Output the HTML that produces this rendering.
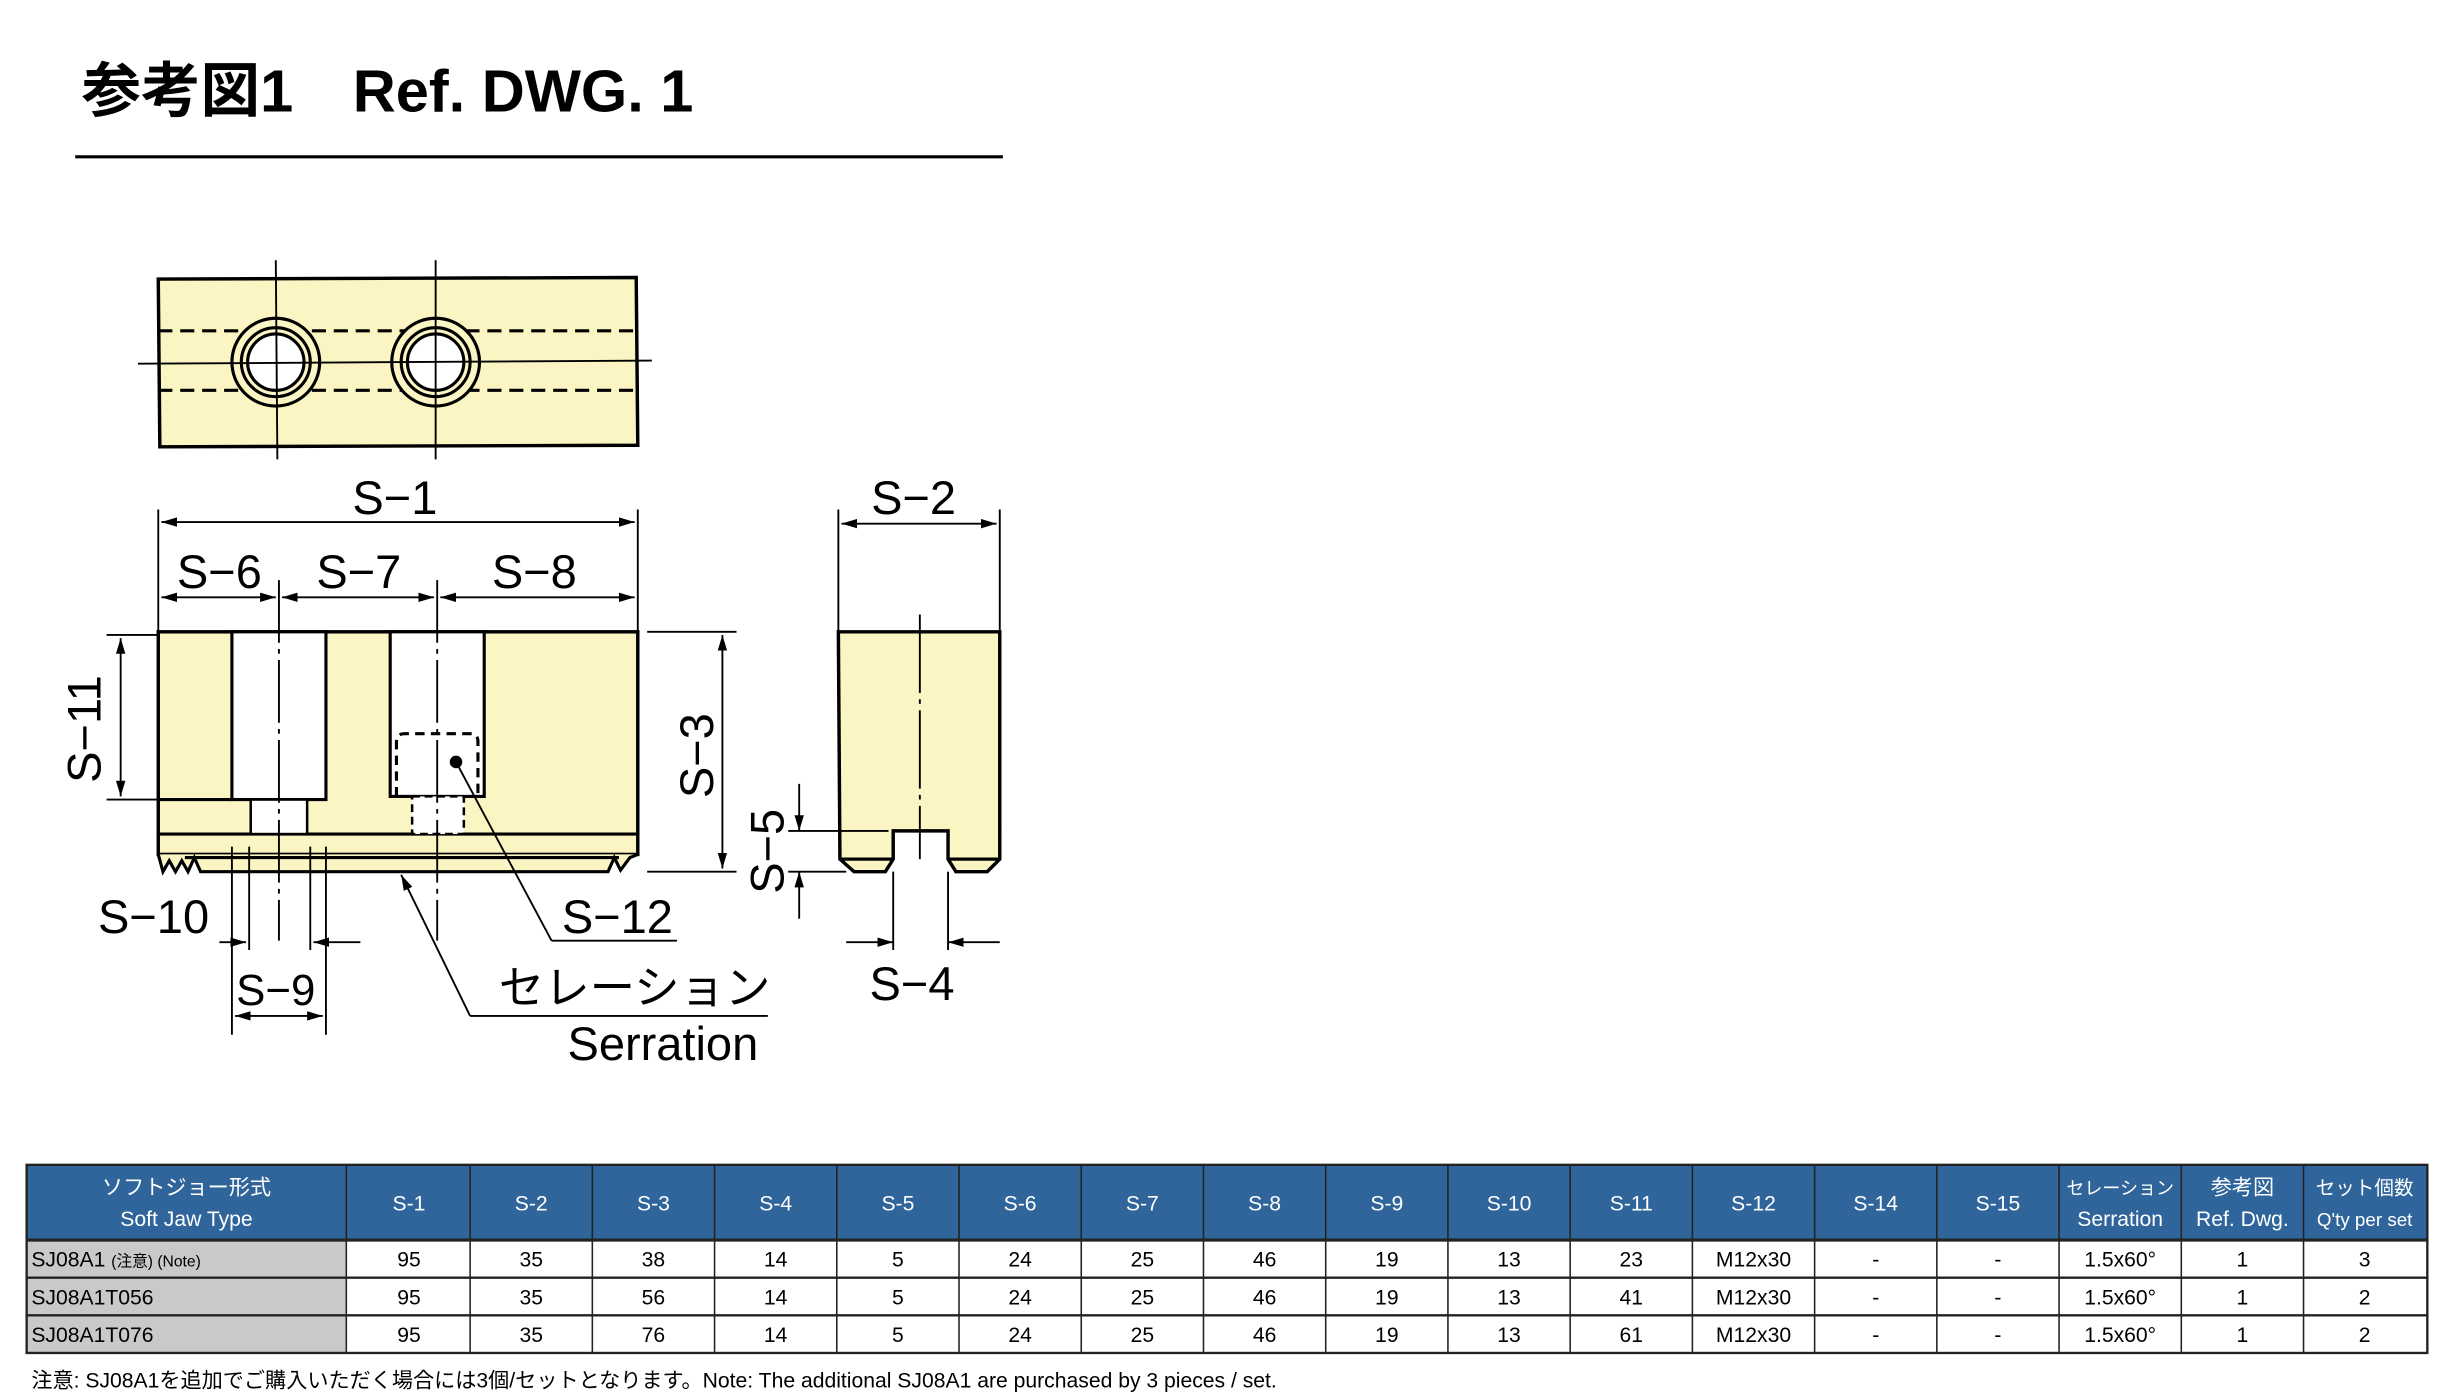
<!DOCTYPE html>
<html><head><meta charset="utf-8"><style>
html,body{margin:0;padding:0;background:#fff;}
svg{display:block;}
text{font-family:"Liberation Sans","Noto Sans CJK JP",sans-serif;}
</style></head><body>
<svg width="2443" height="1400" viewBox="0 0 1559 893" preserveAspectRatio="none" xmlns="http://www.w3.org/2000/svg">
<defs>
<marker id="a" viewBox="0 0 10 6" refX="10" refY="3" markerWidth="10" markerHeight="6" orient="auto-start-reverse" markerUnits="userSpaceOnUse"><path d="M0,0 L10,3 L0,6 z" fill="#000"/></marker>
</defs>
<text x="52" y="71" font-size="38" font-weight="bold">参考図1　Ref. DWG. 1</text>
<line x1="48" y1="100" x2="640" y2="100" stroke="#000" stroke-width="2"/>

<g stroke="#000" fill="none">
<path d="M101,178 L406,177 L407,284 L102,285 Z" fill="#fbf5c4" stroke-width="2.2"/>
<line x1="101" y1="211" x2="407" y2="211" stroke-width="2" stroke-dasharray="9,5"/>
<line x1="101" y1="249" x2="407" y2="249" stroke-width="2" stroke-dasharray="9,5"/>
<circle cx="176" cy="231" r="28" fill="#fbf5c4" stroke-width="2"/>
<circle cx="176" cy="231" r="22" stroke-width="2"/>
<circle cx="176" cy="231" r="18" fill="#fff" stroke-width="2"/>
<circle cx="278" cy="231" r="28" fill="#fbf5c4" stroke-width="2"/>
<circle cx="278" cy="231" r="22" stroke-width="2"/>
<circle cx="278" cy="231" r="18" fill="#fff" stroke-width="2"/>
<line x1="88" y1="232" x2="416" y2="230" stroke-width="1.2"/>
<line x1="176" y1="166" x2="177" y2="293" stroke-width="1.2"/>
<line x1="278" y1="166" x2="278" y2="293" stroke-width="1.2"/>

<rect x="101" y="403" width="306" height="142" fill="#fbf5c4" stroke-width="2.2"/>
<path d="M101,545 L104,556 L108,549 L112,556 L116,549 L120,556 L124,547 L128,556 L388,556 L392,547 L396,555 L402,547 L407,545" fill="#fbf5c4" stroke-width="2"/>
<line x1="118" y1="547" x2="395" y2="547" stroke-width="2"/>
<line x1="101" y1="532" x2="407" y2="532" stroke-width="2"/>
<line x1="101" y1="510" x2="148" y2="510" stroke-width="2"/>
<rect x="148" y="403" width="60" height="107" fill="#fff" stroke-width="2"/>
<rect x="160" y="510" width="36" height="22" fill="#fff" stroke-width="1.6"/>
<rect x="249" y="403" width="60" height="105" fill="#fff" stroke-width="2"/>
<path d="M253,508 L253,473 Q253,468 258,468 L300,468 Q305,468 305,473 L305,508" stroke-width="2" stroke-dasharray="6,4"/>
<rect x="263" y="508" width="33" height="24" fill="#fff" stroke-width="1.6" stroke-dasharray="5,3"/>
<circle cx="291" cy="486" r="4" fill="#000" stroke="none"/>
<line x1="178" y1="370" x2="178" y2="600" stroke-width="1.2" stroke-dasharray="40,4,3,4"/>
<line x1="279" y1="370" x2="279" y2="600" stroke-width="1.2" stroke-dasharray="40,4,3,4"/>

<path d="M535,403 L638,403 L638,548 L630,556 L610,556 L605,548 L605,530 L570,530 L570,548 L565,556 L545,556 L536,548 Z" fill="#fbf5c4" stroke-width="2.2"/>
<line x1="536" y1="548" x2="570" y2="548" stroke-width="2"/>
<line x1="605" y1="548" x2="638" y2="548" stroke-width="2"/>
<line x1="587" y1="392" x2="587" y2="548" stroke-width="1.2" stroke-dasharray="50,4,3,4"/>

<g stroke-width="1.2">
<line x1="101" y1="325" x2="101" y2="403"/><line x1="407" y1="325" x2="407" y2="403"/>
<line x1="103" y1="333" x2="405" y2="333" marker-start="url(#a)" marker-end="url(#a)"/>
<line x1="103" y1="381" x2="176" y2="381" marker-start="url(#a)" marker-end="url(#a)"/>
<line x1="180" y1="381" x2="277" y2="381" marker-start="url(#a)" marker-end="url(#a)"/>
<line x1="281" y1="381" x2="405" y2="381" marker-start="url(#a)" marker-end="url(#a)"/>
<line x1="68" y1="405" x2="101" y2="405"/><line x1="68" y1="510" x2="101" y2="510"/>
<line x1="77" y1="407" x2="77" y2="508" marker-start="url(#a)" marker-end="url(#a)"/>
<line x1="413" y1="403" x2="470" y2="403"/><line x1="413" y1="556" x2="470" y2="556"/>
<line x1="461" y1="405" x2="461" y2="554" marker-start="url(#a)" marker-end="url(#a)"/>
<line x1="148" y1="540" x2="148" y2="660"/><line x1="208" y1="540" x2="208" y2="660"/>
<line x1="159" y1="540" x2="159" y2="606"/><line x1="198" y1="540" x2="198" y2="606"/>
<line x1="140" y1="601" x2="157" y2="601" marker-end="url(#a)"/>
<line x1="230" y1="601" x2="200" y2="601" marker-end="url(#a)"/>
<line x1="150" y1="648" x2="206" y2="648" marker-start="url(#a)" marker-end="url(#a)"/>
<line x1="291" y1="486" x2="352" y2="600"/><line x1="352" y1="600" x2="432" y2="600"/>
<line x1="300" y1="648" x2="256" y2="558" marker-end="url(#a)"/><line x1="300" y1="648" x2="490" y2="648"/>
<line x1="535" y1="325" x2="535" y2="403"/><line x1="638" y1="325" x2="638" y2="403"/>
<line x1="537" y1="334" x2="636" y2="334" marker-start="url(#a)" marker-end="url(#a)"/>
<line x1="503" y1="530" x2="567" y2="530"/><line x1="503" y1="556" x2="540" y2="556"/>
<line x1="510" y1="500" x2="510" y2="530" marker-end="url(#a)"/>
<line x1="510" y1="586" x2="510" y2="556" marker-end="url(#a)"/>
<line x1="570" y1="556" x2="570" y2="606"/><line x1="605" y1="556" x2="605" y2="606"/>
<line x1="540" y1="601" x2="570" y2="601" marker-end="url(#a)"/>
<line x1="638" y1="601" x2="605" y2="601" marker-end="url(#a)"/>
</g>
</g>
<g font-size="30" text-anchor="middle">
<text x="252" y="328">S−1</text>
<text x="140" y="375">S−6</text>
<text x="229" y="375">S−7</text>
<text x="341" y="375">S−8</text>
<text x="583" y="328">S−2</text>
<text transform="translate(64,465) rotate(-90)">S−11</text>
<text transform="translate(455,482) rotate(-90)">S−3</text>
<text transform="translate(500,543) rotate(-90)">S−5</text>
<text x="98" y="595">S−10</text>
<text x="176" y="641" font-size="28">S−9</text>
<text x="394" y="595">S−12</text>
<text x="582" y="638">S−4</text>
<text x="405" y="640" font-size="29">セレーション</text>
<text x="423" y="676">Serration</text>
</g>

<g font-size="13.5" text-anchor="middle">
<rect x="17" y="743" width="1532" height="48" fill="#2f659b"/>
<rect x="17" y="791" width="204" height="72" fill="#c9c9c9"/>
<rect x="221" y="791" width="1328" height="72" fill="#fff"/>
<g stroke="#222" stroke-width="1">
<rect x="17" y="743" width="1532" height="120" fill="none" stroke-width="1.5"/>
<line x1="17" y1="791" x2="1549" y2="791" stroke-width="2"/>
<line x1="17" y1="815" x2="1549" y2="815" stroke-width="1.5"/>
<line x1="17" y1="839" x2="1549" y2="839" stroke-width="1.5"/>
<line x1="221" y1="743" x2="221" y2="863"/><line x1="300" y1="743" x2="300" y2="863"/><line x1="378" y1="743" x2="378" y2="863"/><line x1="456" y1="743" x2="456" y2="863"/><line x1="534" y1="743" x2="534" y2="863"/><line x1="612" y1="743" x2="612" y2="863"/><line x1="690" y1="743" x2="690" y2="863"/><line x1="768" y1="743" x2="768" y2="863"/><line x1="846" y1="743" x2="846" y2="863"/><line x1="924" y1="743" x2="924" y2="863"/><line x1="1002" y1="743" x2="1002" y2="863"/><line x1="1080" y1="743" x2="1080" y2="863"/><line x1="1158" y1="743" x2="1158" y2="863"/><line x1="1236" y1="743" x2="1236" y2="863"/><line x1="1314" y1="743" x2="1314" y2="863"/><line x1="1392" y1="743" x2="1392" y2="863"/><line x1="1470" y1="743" x2="1470" y2="863"/>
</g>
<g fill="#fff">
<text x="119" y="762">ソフトジョー形式</text><text x="119" y="782">Soft Jaw Type</text>
<text x="261" y="772">S-1</text><text x="339" y="772">S-2</text><text x="417" y="772">S-3</text><text x="495" y="772">S-4</text><text x="573" y="772">S-5</text><text x="651" y="772">S-6</text><text x="729" y="772">S-7</text><text x="807" y="772">S-8</text><text x="885" y="772">S-9</text><text x="963" y="772">S-10</text><text x="1041" y="772">S-11</text><text x="1119" y="772">S-12</text><text x="1197" y="772">S-14</text><text x="1275" y="772">S-15</text>
<text x="1353" y="762" font-size="11.5">セレーション</text><text x="1353" y="782">Serration</text>
<text x="1431" y="762">参考図</text><text x="1431" y="782">Ref. Dwg.</text>
<text x="1509" y="762" font-size="12.5">セット個数</text><text x="1509" y="782" font-size="12">Q'ty per set</text>
</g>
<g text-anchor="start">
<text x="20" y="808">SJ08A1 <tspan font-size="10">(注意) (Note)</tspan></text>
<text x="20" y="832">SJ08A1T056</text>
<text x="20" y="856">SJ08A1T076</text>
</g>
<text x="261" y="808">95</text><text x="339" y="808">35</text><text x="417" y="808">38</text><text x="495" y="808">14</text><text x="573" y="808">5</text><text x="651" y="808">24</text><text x="729" y="808">25</text><text x="807" y="808">46</text><text x="885" y="808">19</text><text x="963" y="808">13</text><text x="1041" y="808">23</text><text x="1119" y="808">M12x30</text><text x="1197" y="808">-</text><text x="1275" y="808">-</text><text x="1353" y="808">1.5x60°</text><text x="1431" y="808">1</text><text x="1509" y="808">3</text>
<text x="261" y="832">95</text><text x="339" y="832">35</text><text x="417" y="832">56</text><text x="495" y="832">14</text><text x="573" y="832">5</text><text x="651" y="832">24</text><text x="729" y="832">25</text><text x="807" y="832">46</text><text x="885" y="832">19</text><text x="963" y="832">13</text><text x="1041" y="832">41</text><text x="1119" y="832">M12x30</text><text x="1197" y="832">-</text><text x="1275" y="832">-</text><text x="1353" y="832">1.5x60°</text><text x="1431" y="832">1</text><text x="1509" y="832">2</text>
<text x="261" y="856">95</text><text x="339" y="856">35</text><text x="417" y="856">76</text><text x="495" y="856">14</text><text x="573" y="856">5</text><text x="651" y="856">24</text><text x="729" y="856">25</text><text x="807" y="856">46</text><text x="885" y="856">19</text><text x="963" y="856">13</text><text x="1041" y="856">61</text><text x="1119" y="856">M12x30</text><text x="1197" y="856">-</text><text x="1275" y="856">-</text><text x="1353" y="856">1.5x60°</text><text x="1431" y="856">1</text><text x="1509" y="856">2</text>
</g>
<text x="20" y="885" font-size="13.5">注意: SJ08A1を追加でご購入いただく場合には3個/セットとなります。Note: The additional SJ08A1 are purchased by 3 pieces / set.</text>
</svg>
</body></html>
